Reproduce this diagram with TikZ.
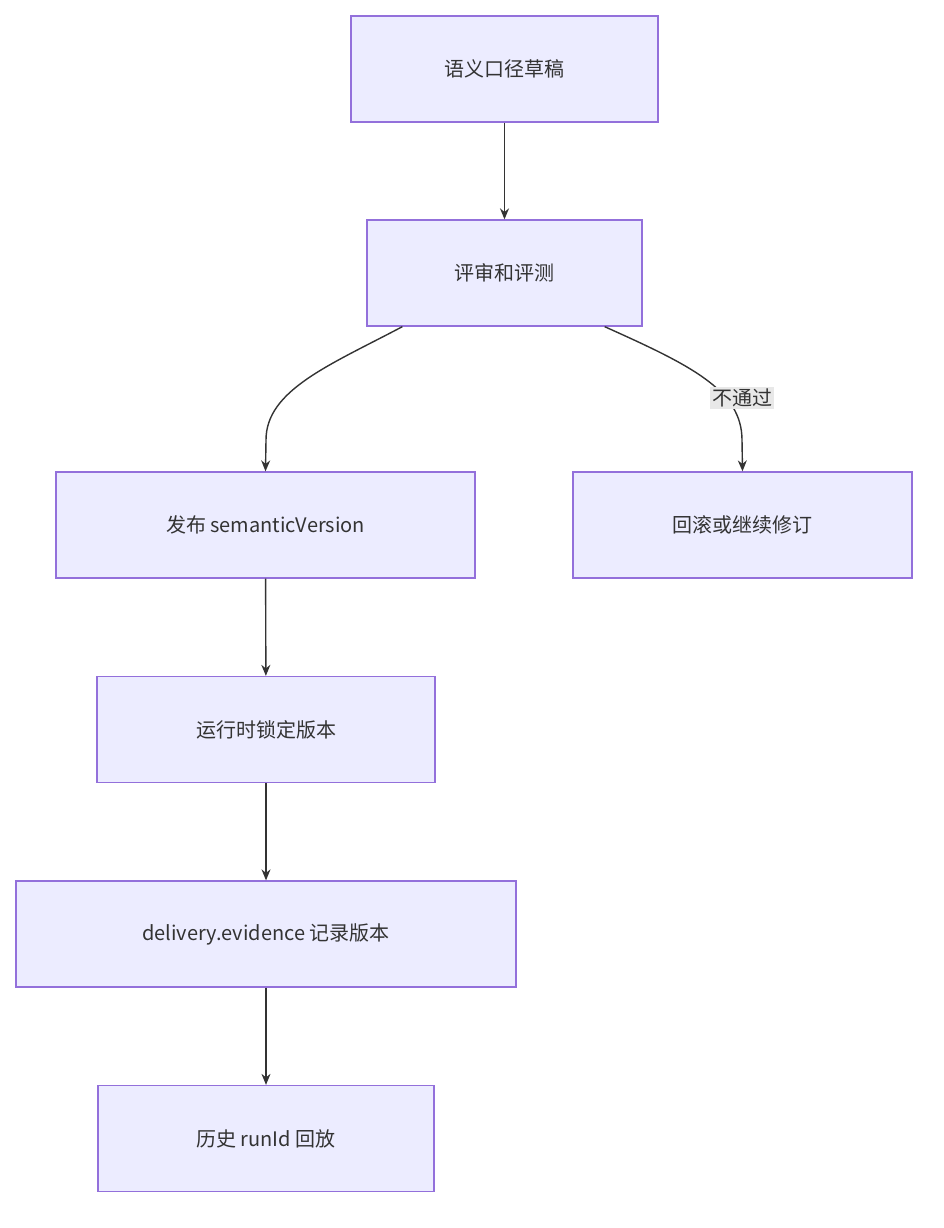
\documentclass[tikz,border=0pt]{standalone}
\usepackage{fontspec}
\setmainfont{Noto Sans CJK SC}
\usetikzlibrary{arrows.meta}
\definecolor{nfill}{HTML}{ECECFF}
\definecolor{nline}{HTML}{9370DB}
\definecolor{eline}{HTML}{333333}
\definecolor{lbg}{HTML}{E8E8E8}
\begin{document}
\begin{tikzpicture}[x=1pt,y=-1pt,
  box/.style={draw=nline,fill=nfill,line width=1.3pt,minimum height=106pt,inner sep=0pt,font=\fontsize{20}{24}\selectfont,text=eline},
  arr/.style={draw=eline,line width=1.4pt,-{Stealth[length=11pt,width=9pt]}}]
\useasboundingbox (0,0) rectangle (944,1228);
\node[box,minimum width=307pt] (A) at (504.5,69) {语义口径草稿};
\node[box,minimum width=275pt] (B) at (504.5,273) {评审和评测};
\node[box,minimum width=419pt] (C) at (265.5,525) {发布 semanticVersion};
\node[box,minimum width=339pt] (D) at (742.5,525) {回滚或继续修订};
\node[box,minimum width=338pt] (E) at (266,729.5) {运行时锁定版本};
\node[box,minimum width=500pt] (F) at (266,934) {delivery.evidence 记录版本};
\node[box,minimum width=336pt] (G) at (266,1138.5) {历史 runId 回放};
\draw[arr] (A) -- (B);
\draw[arr] (B.south west)++(36,0) .. controls (330,365) and (266,390) .. (266,440) -- (C.north);
\draw[arr] (B.south east)++(-38,0) .. controls (690,365) and (742,390) .. (742,440) -- (D.north);
\node[fill=lbg,inner sep=2pt,font=\fontsize{20}{24}\selectfont,text=eline] (L) at (742,398) {不通过};
\draw[arr] (C) -- (E);
\draw[arr] (E) -- (F);
\draw[arr] (F) -- (G);
\end{tikzpicture}
\end{document}
